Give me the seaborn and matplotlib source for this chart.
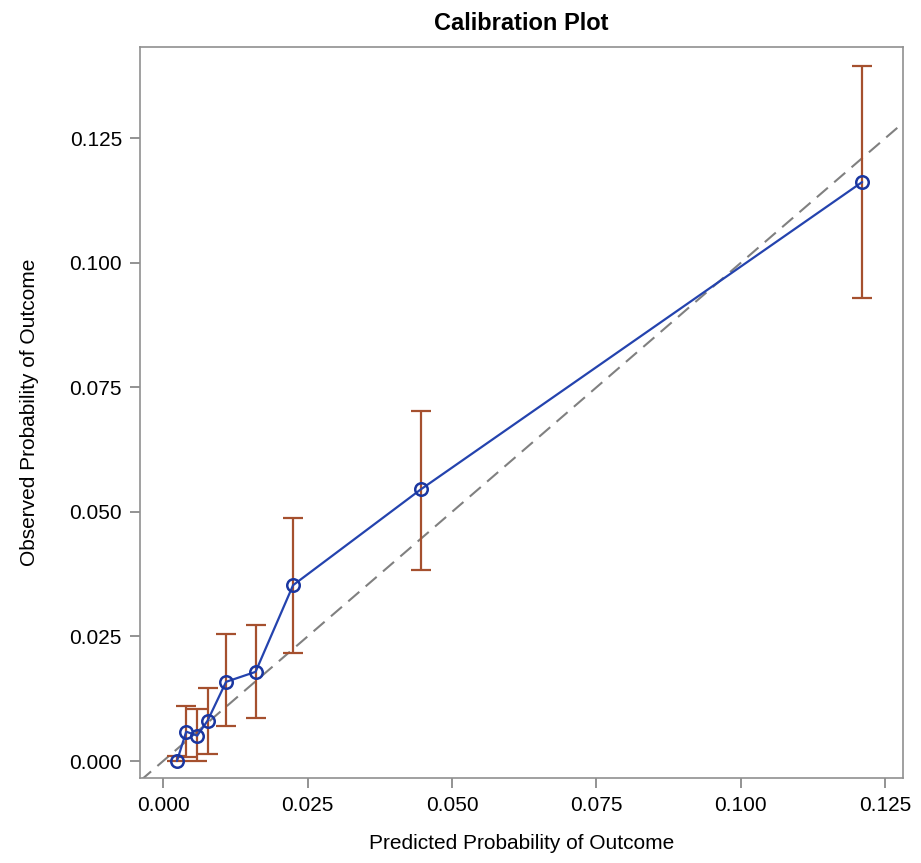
import matplotlib
matplotlib.use('Agg')
import matplotlib.pyplot as plt
import seaborn as sns
import pandas as pd
import numpy as np

# ── Data ───────────────────────────────────────────────────────────────────────
predicted = [0.0024, 0.0040, 0.0059, 0.0077, 0.0109, 0.0160, 0.0225, 0.0447, 0.1210]
observed  = [0.0000, 0.0059, 0.0051, 0.0081, 0.0159, 0.0179, 0.0353, 0.0546, 0.1162]
ci_lower  = [0.0000, 0.0009, 0.0000, 0.0015, 0.0071, 0.0086, 0.0217, 0.0383, 0.0929]
ci_upper  = [0.0010, 0.0111, 0.0104, 0.0146, 0.0255, 0.0273, 0.0488, 0.0702, 0.1394]
ticks     = [0.000, 0.025, 0.050, 0.075, 0.100, 0.125]

df = pd.DataFrame({'predicted': predicted, 'observed': observed,
                   'lower': ci_lower, 'upper': ci_upper})

sns.set_style('ticks')
plt.rcParams['font.family'] = ['Liberation Sans', 'DejaVu Sans']
plt.rcParams['text.color'] = 'black'
plt.rcParams['axes.labelcolor'] = 'black'
plt.rcParams['xtick.labelcolor'] = 'black'
plt.rcParams['ytick.labelcolor'] = 'black'

fig = plt.figure(figsize=(9.21, 8.63), dpi=100)
ax = fig.add_axes([0.152, 0.0985, 0.828, 0.847])

# reference line y = x
diag = np.array([-0.01, 0.2])
ax.plot(diag, diag, color='#808080', linestyle=(0, (7, 4)), linewidth=1.5, zorder=1)

# confidence interval bars
ax.errorbar(df['predicted'], df['observed'],
            yerr=[df['observed'] - df['lower'], df['upper'] - df['observed']],
            fmt='none', ecolor='#A5502E', elinewidth=1.6, capsize=7, capthick=1.6, zorder=2)

# calibration curve
sns.lineplot(data=df, x='predicted', y='observed', ax=ax, color='#2443AE',
             linewidth=1.6, marker='o', markersize=9, markerfacecolor='none',
             markeredgecolor='#1A36A0', markeredgewidth=1.8, sort=False, zorder=3)

ax.set_xlim(-0.004, 0.128)
ax.set_ylim(-0.0034, 0.1433)
ax.set_xticks(ticks)
ax.set_yticks(ticks)
ax.set_xticklabels([f'{t:.3f}' for t in ticks])
ax.set_yticklabels([f'{t:.3f}' for t in ticks])
ax.tick_params(axis='both', labelsize=15, color='#808080', length=7, width=1.2, pad=6)

for s in ax.spines.values():
    s.set_visible(True)
    s.set_color('#909090')
    s.set_linewidth(1.2)

ax.set_xlabel('Predicted Probability of Outcome', fontsize=15, labelpad=14)
ax.set_ylabel('Observed Probability of Outcome', fontsize=15, labelpad=22)
ax.set_title('Calibration Plot', fontsize=17, fontweight='bold', pad=12)

fig.savefig('out.png', dpi=100)
plt.close(fig)
